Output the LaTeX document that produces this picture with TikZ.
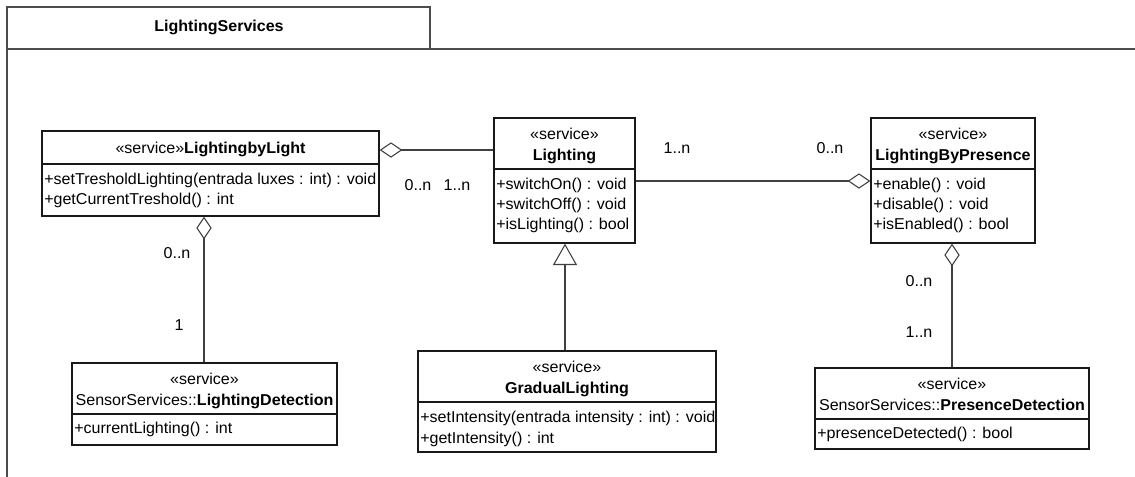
\documentclass[tikz,border=0pt]{standalone}
\usepackage{fontspec}
\setmainfont{Liberation Sans}[FakeStretch=1.02]
\usetikzlibrary{arrows.meta,fit}

\begin{document}
\begin{tikzpicture}[
  x=0.75pt, y=-0.75pt,
  font=\fontsize{11.8}{14}\selectfont,
  frameline/.style={draw=black!70, line width=1.1pt},
  classbox/.style={draw=black!90, line width=1pt, inner sep=0pt},
  divider/.style={draw=black!90, line width=1pt},
  title/.style={inner sep=0pt, anchor=base},
  member/.style={inner sep=0pt, anchor=base west},
  mult/.style={inner sep=0pt, anchor=base},
  assoc/.style={draw=black!75, line width=0.8pt},
  aggr/.style={assoc, {Diamond[length=17pt, width=11.5pt, fill=white, line width=0.8pt]}-},
  aggrend/.style={assoc, -{Diamond[length=17pt, width=11.5pt, fill=white, line width=0.8pt]}},
  generalize/.style={assoc, -{Triangle[length=16pt, width=18pt, fill=white, line width=0.8pt]}}
]
\useasboundingbox (0,0) rectangle (1135,476);
\fill[white] (0,0) rectangle (1135,476);

% package frame with its name tab
\node[frameline, inner sep=0pt, fit={(7,7) (430,49)}] (pkgtab) {};
\node[title] (pkgname) at (219,31) {\textbf{LightingServices}};
\draw[frameline] (7,480) -- (7,49) -- (1140,49);

% LightingbyLight
\node[classbox, fit={(42,131) (379,216)}] (lbl) {};
\draw[divider] (lbl.west |- 0,164) -- (lbl.east |- 0,164);
\node[title] (lbl-name) at (210.5,153) {«service»\textbf{LightingbyLight}};
\node[member] (lbl-op1) at (44,184) {+setTresholdLighting(entrada luxes : int) : void};
\node[member] (lbl-op2) at (44,204) {+getCurrentTreshold() : int};

% Lighting
\node[classbox, fit={(494,118) (635,243)}] (light) {};
\draw[divider] (light.west |- 0,169) -- (light.east |- 0,169);
\node[title] (light-st) at (564.5,139) {«service»};
\node[title] (light-name) at (564.5,160) {\textbf{Lighting}};
\node[member] (light-op1) at (496,189) {+switchOn() : void};
\node[member] (light-op2) at (496,209) {+switchOff() : void};
\node[member] (light-op3) at (496,229) {+isLighting() : bool};

% LightingByPresence
\node[classbox, fit={(871,118) (1035,243)}] (lbp) {};
\draw[divider] (lbp.west |- 0,169) -- (lbp.east |- 0,169);
\node[title] (lbp-st) at (953,139) {«service»};
\node[title] (lbp-name) at (953,160) {\textbf{LightingByPresence}};
\node[member] (lbp-op1) at (873,189) {+enable() : void};
\node[member] (lbp-op2) at (873,209) {+disable() : void};
\node[member] (lbp-op3) at (873,229) {+isEnabled() : bool};

% SensorServices::LightingDetection
\node[classbox, fit={(72,363) (337,445)}] (ld) {};
\draw[divider] (ld.west |- 0,414) -- (ld.east |- 0,414);
\node[title] (ld-st) at (204.5,384) {«service»};
\node[title] (ld-name) at (204.5,405) {SensorServices::\textbf{LightingDetection}};
\node[member] (ld-op1) at (74,433) {+currentLighting() : int};

% GradualLighting
\node[classbox, fit={(418,351) (716,452)}] (gl) {};
\draw[divider] (gl.west |- 0,402) -- (gl.east |- 0,402);
\node[title] (gl-st) at (567,372) {«service»};
\node[title] (gl-name) at (567,393) {\textbf{GradualLighting}};
\node[member] (gl-op1) at (420,422) {+setIntensity(entrada intensity : int) : void};
\node[member] (gl-op2) at (420,443) {+getIntensity() : int};

% SensorServices::PresenceDetection
\node[classbox, fit={(815,368) (1089,449)}] (pd) {};
\draw[divider] (pd.west |- 0,419) -- (pd.east |- 0,419);
\node[title] (pd-st) at (952,389) {«service»};
\node[title] (pd-name) at (952,410) {SensorServices::\textbf{PresenceDetection}};
\node[member] (pd-op1) at (817,438) {+presenceDetected() : bool};

% relations
\draw[aggr] (lbl.east |- 0,150) -- (light.west |- 0,150);
\draw[aggrend] (light.east |- 0,181) -- (lbp.west |- 0,181);
\draw[aggr] (lbl.south -| 204,0) -- (ld.north -| 204,0);
\draw[generalize] (gl.north -| 565,0) -- (light.south -| 565,0);
\draw[aggr] (lbp.south -| 952,0) -- (pd.north -| 952,0);

% multiplicities
\node[mult] (m1) at (418,190) {0..n};
\node[mult] (m2) at (457,190) {1..n};
\node[mult] (m3) at (677,153) {1..n};
\node[mult] (m4) at (830,153) {0..n};
\node[mult] (m5) at (177,258) {0..n};
\node[mult] (m6) at (179,330) {1};
\node[mult] (m7) at (919,286) {0..n};
\node[mult] (m8) at (919,337) {1..n};
\end{tikzpicture}
\end{document}
